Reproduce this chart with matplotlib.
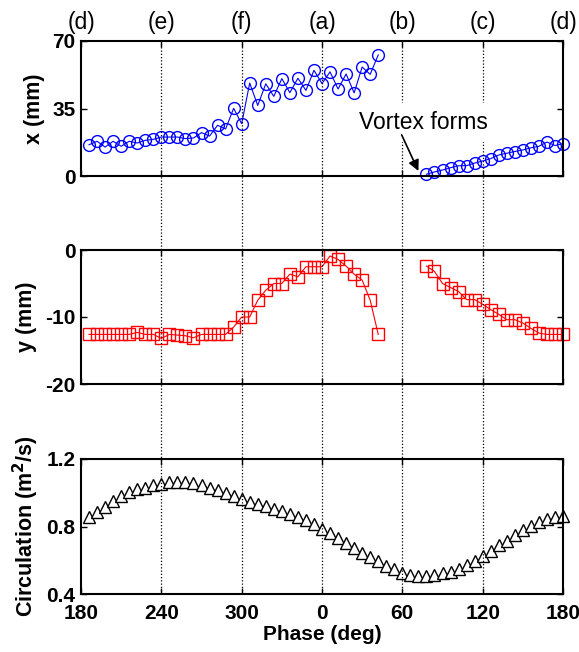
import numpy as np
import matplotlib
matplotlib.use("Agg")
import matplotlib.pyplot as plt

plt.rcParams['font.family'] = ['Liberation Sans', 'DejaVu Sans']
plt.rcParams['axes.unicode_minus'] = False

# phase (deg), unwrapped so the cycle runs 180 -> 540
phase = [186, 192, 198, 204, 210, 216, 222, 228, 234, 240,
         246, 252, 258, 264, 270, 276, 282, 288, 294, 300,
         306, 312, 318, 324, 330, 336, 342, 348, 354, 360,
         366, 372, 378, 384, 390, 396, 402, 408, 414, 420,
         426, 432, 438, 444, 450, 456, 462, 468, 474, 480,
         486, 492, 498, 504, 510, 516, 522, 528, 534, 540]

nan = np.nan
x_mm = [16.2, 18.0, 15.0, 18.0, 15.4, 18.0, 17.1, 18.5, 19.0, 20.2,
        20.2, 20.2, 19.4, 19.7, 22.5, 20.7, 26.3, 24.4, 35.1, 27.1,
        48.2, 36.6, 47.8, 41.3, 50.5, 43.2, 50.7, 44.4, 54.8, 47.9,
        54.0, 45.1, 52.9, 43.1, 56.5, 52.7, 62.8, nan, nan, nan,
        nan, nan, 0.9, 2.1, 3.1, 4.3, 5.3, 5.4, 6.7, 7.8,
        9.0, 10.9, 11.8, 12.7, 13.5, 14.6, 15.4, 17.6, 15.8, 16.8]

y_mm = [-12.6, -12.6, -12.6, -12.6, -12.6, -12.6, -12.3, -12.6, -12.6, -13.2,
        -12.6, -12.7, -12.8, -13.1, -12.6, -12.6, -12.6, -12.6, -11.5, -10.0,
        -10.0, -7.5, -6.0, -5.0, -5.0, -3.6, -4.0, -2.5, -2.5, -2.5,
        -0.9, -1.4, -2.4, -3.6, -4.5, -7.5, -12.6, nan, nan, nan,
        nan, nan, -2.4, -3.2, -5.0, -5.6, -6.2, -7.4, -7.4, -8.1,
        -8.9, -9.6, -10.4, -10.4, -10.9, -11.7, -12.4, -12.6, -12.6, -12.6]

circ = [0.855, 0.886, 0.915, 0.950, 0.980, 1.004, 1.020, 1.030, 1.044, 1.054,
        1.062, 1.064, 1.062, 1.056, 1.044, 1.030, 1.014, 0.998, 0.981, 0.963,
        0.947, 0.935, 0.921, 0.906, 0.890, 0.874, 0.858, 0.840, 0.815, 0.787,
        0.759, 0.732, 0.704, 0.673, 0.645, 0.617, 0.594, 0.568, 0.546, 0.526,
        0.515, 0.507, 0.507, 0.513, 0.522, 0.532, 0.550, 0.574, 0.598, 0.623,
        0.653, 0.688, 0.712, 0.748, 0.777, 0.803, 0.827, 0.845, 0.855, 0.862]

phase_ticks = [180, 240, 300, 360, 420, 480, 540]
phase_labels = ['180', '240', '300', '0', '60', '120', '180']
stage_pos = [180, 240, 300, 360, 420, 480, 540]
stage_labels = ['(d)', '(e)', '(f)', '(a)', '(b)', '(c)', '(d)']
event_lines = [240, 300, 360, 420, 480]

W, H = 579, 652
fig = plt.figure(figsize=(W / 100, H / 100), dpi=100)

left, right = 81, 563
def box(top, bottom):
    return [left / W, 1 - bottom / H, (right - left) / W, (bottom - top) / H]

ax1 = fig.add_axes(box(41, 176))
ax2 = fig.add_axes(box(250, 384))
ax3 = fig.add_axes(box(459, 594))

ax1.plot(phase, x_mm, '-o', color='b', lw=0.8, ms=8.5, mfc='none', mew=1.0,
         clip_on=False)
ax2.plot(phase, y_mm, '-s', color='r', lw=0.8, ms=8, mfc='none', mew=1.0,
         clip_on=False)
ax3.plot(phase, circ, '^', color='k', ms=8.5, mfc='white', mew=1.0,
         clip_on=False)

ax1.set_ylim(0, 70)
ax1.set_yticks([0, 35, 70])
ax2.set_ylim(-20, 0)
ax2.set_yticks([-20, -10, 0])
ax3.set_ylim(0.4, 1.2)
ax3.set_yticks([0.4, 0.8, 1.2])
ax3.set_yticklabels(['0.4', '0.8', '1.2'])

for ax in (ax1, ax2, ax3):
    ax.set_xlim(180, 540)
    ax.set_xticks(phase_ticks)
    ax.tick_params(direction='in', length=4, width=1, top=True, right=True,
                   labelsize=15, pad=4)
    for lab in ax.get_yticklabels() + ax.get_xticklabels():
        lab.set_fontweight('bold')
    for s in ax.spines.values():
        s.set_linewidth(1.5)
ax1.tick_params(labelbottom=False)
ax2.tick_params(labelbottom=False)
ax3.set_xticklabels(phase_labels, fontweight='bold')
ax3.tick_params(axis='x', pad=7)

lab_kw = dict(fontsize=15.5, fontweight='bold')
ax1.set_ylabel('x (mm)', **lab_kw)
ax2.set_ylabel('y (mm)', **lab_kw)
ax3.set_ylabel('Circulation (m$^\\mathbf{2}$/s)', **lab_kw)
ax1.yaxis.set_label_coords((45 - left) / (right - left), 0.5)
ax2.yaxis.set_label_coords((37 - left) / (right - left), 0.5)
ax3.yaxis.set_label_coords((41 - left) / (right - left), 0.5)
ax3.set_xlabel('Phase (deg)', fontsize=15, fontweight='bold', labelpad=2)

for p, s in zip(stage_pos, stage_labels):
    ax1.text(p, 1.14, s, transform=ax1.get_xaxis_transform(),
             ha='center', va='center', fontsize=16.5)

# overlay for the dotted phase markers that cross all three panels
ov = fig.add_axes(box(41, 594))
ov.set_xlim(180, 540)
ov.set_ylim(0, 1)
ov.axis('off')
for p in event_lines:
    ov.plot([p, p], [0, 1], color='k', lw=0.9, ls=(0, (1, 1.6)), zorder=1)

ov.text(436, 27.5, 'Vortex forms', transform=ax1.transData,
        ha='center', va='center', fontsize=16.5, zorder=5,
        bbox=dict(boxstyle='square,pad=0.35', fc='white', ec='none'))
ov.annotate('', xy=(432, 2.6), xycoords=ax1.transData,
            xytext=(419.5, 21.3), textcoords=ax1.transData,
            arrowprops=dict(arrowstyle='-|>', color='k', lw=1.2,
                            mutation_scale=16, shrinkA=0, shrinkB=0),
            zorder=6)

fig.savefig('out.png', dpi=100)
